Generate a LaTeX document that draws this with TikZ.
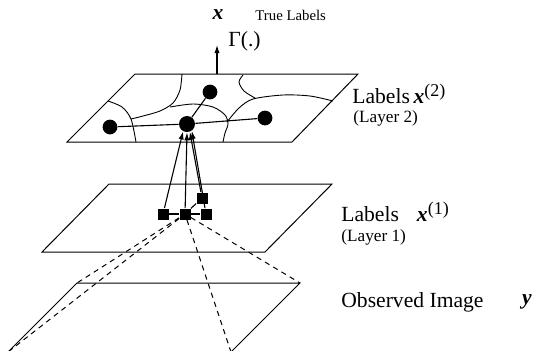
\documentclass[tikz,border=0pt]{standalone}
\usepackage{fontspec}
\setmainfont{Liberation Serif}
\usetikzlibrary{arrows.meta}
\newcommand{\bx}[1]{\textbf{\textit{#1}}}
\newcommand{\supx}[1]{\raisebox{0.75ex}{\fontsize{9}{10}\selectfont(#1)}}
\tikzset{
  plane/.style={line width=0.5pt},
  region/.style={line width=0.45pt},
  lblnode/.style={circle, fill=black, inner sep=0pt, minimum size=7.4pt},
  obsnode/.style={rectangle, fill=black, inner sep=0pt, minimum size=5.5pt},
  link/.style={line width=0.55pt},
  uplink/.style={line width=0.55pt, -{Latex[length=4pt,width=2.6pt]}},
  pyramid/.style={line width=0.5pt, dash pattern=on 2.6pt off 2.2pt},
  mainlbl/.style={font=\fontsize{10.8}{12}\selectfont, inner sep=0pt},
  sublbl/.style={font=\fontsize{8.6}{10}\selectfont, inner sep=0pt},
  smalllbl/.style={font=\fontsize{7.4}{8}\selectfont, inner sep=0pt},
}

\begin{document}
\begin{tikzpicture}[x=0.5pt, y=-0.5pt]
        \useasboundingbox (0,0) rectangle (537,350);
        % Planes
        \draw[plane] (67,142) -- (292,142) -- (358,74) -- (135,74) -- cycle;
        \draw[plane] (42,252) -- (265,252) -- (332,184) -- (109,184) -- cycle;
        \coordinate (o1) at (77,283);
        \coordinate (o2) at (300,283);
        \coordinate (o3) at (231,352);
        \coordinate (o4) at (8,352);
        \draw[plane] (o1) -- (o2) -- (o3) -- (o4) -- cycle;
        % Region borders (layer 2)
        \draw[region] plot[smooth] coordinates {(108,101) (122,107) (131,119) (136,142)};
        \draw[region] plot[smooth] coordinates {(182,74) (180,90) (173,103) (160,111) (143,116) (131,119)};
        \draw[region] plot[smooth] coordinates {(170,107) (193,104) (213,107) (225,115) (228,124) (225,133) (223,142)};
        \draw[region] plot[smooth] coordinates {(227,122) (239,108) (253,99) (283,95) (310,96) (333,101)};
        \draw[region] plot[smooth] coordinates {(243,75) (239,82) (244,91) (255,98)};
        % Label nodes (layer 2)
        \foreach \n/\xx/\yy in {nl/110/127, nu/210/92, nr/265/118}
          \node[lblnode] (\n) at (\xx,\yy) {};
        \node[lblnode, minimum size=8pt] (nc) at (187,124) {};
        \foreach \n in {nl,nu,nr}
          \draw[link] (nc) -- (\n);
        % Label nodes (layer 1)
        \foreach \n/\xx/\yy in {sa/163/214, sb/185/214, sc/206/214, sd/202/198}
          \node[obsnode] (\n) at (\xx,\yy) {};
        \draw[link] (sa) -- (sb) -- (sc);
        \draw[link] (sb) -- (sd);
        \draw[uplink] (sa) -- (nc.-118);
        \draw[uplink] (sb) -- (nc.-90);
        \draw[uplink] (sd) -- (nc.-70);
        \draw[uplink] (sc) -- (nc.-55);
        % Pyramid to the image
        \foreach \c in {o1,o2,o3,o4}
          \draw[pyramid] (sb) -- (\c);
        % Gamma arrow
        \coordinate (gbase) at (217,74);
        \coordinate (gtip) at (217,45);
        \draw[uplink] (gbase) -- (gtip);
        % Texts
        \node[mainlbl] (xtrue) at (218,15) {\bx{x}};
        \node[smalllbl, anchor=west] (ttrue) at (255,15) {True Labels};
        \node[mainlbl, anchor=west] (gam) at (228,41) {Γ(.)};
        \node[mainlbl, anchor=west] (lab2) at (352,94) {Labels\,\bx{x}\supx{2}};
        \node[sublbl, anchor=west] (lay2) at (353,118) {(Layer 2)};
        \node[mainlbl, anchor=west] (lab1) at (341,212) {Labels\hspace{9pt}\bx{x}\supx{1}};
        \node[sublbl, anchor=west] (lay1) at (341,237) {(Layer 1)};
        \node[mainlbl, anchor=west] (obs) at (341,302) {Observed Image};
        \node[mainlbl] (yobs) at (527,302) {\bx{y}};
      \end{tikzpicture}
\end{document}
